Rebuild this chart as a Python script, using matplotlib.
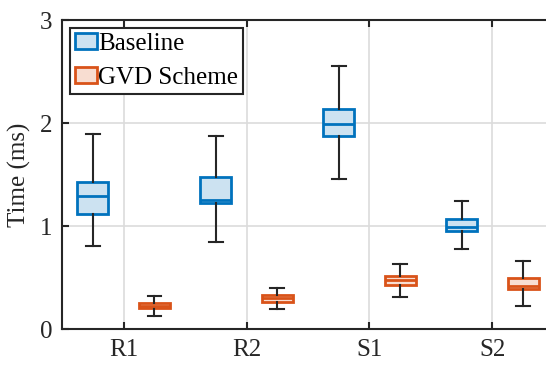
import matplotlib.pyplot as plt
from matplotlib.patches import Patch

# dados (ms)
grupos = ['R1', 'R2', 'S1', 'S2']

base_whislo = [0.81, 0.84, 1.46, 0.78]
base_q1 = [1.12, 1.22, 1.87, 0.95]
base_med = [1.29, 1.25, 1.99, 0.99]
base_q3 = [1.43, 1.48, 2.14, 1.07]
base_whishi = [1.89, 1.87, 2.55, 1.24]

gvd_whislo = [0.13, 0.195, 0.31, 0.225]
gvd_q1 = [0.20, 0.265, 0.43, 0.39]
gvd_med = [0.225, 0.30, 0.475, 0.42]
gvd_q3 = [0.25, 0.33, 0.515, 0.50]
gvd_whishi = [0.32, 0.40, 0.63, 0.66]

azul, azul_claro = '#0072BD', '#cce2f1'
laranja, laranja_claro = '#D95319', '#f8ddd1'
cinza = '#262626'

plt.rcParams['font.family'] = 'Liberation Serif'

fig = plt.figure(figsize=(5.46, 3.65), dpi=100)
ax = fig.add_axes([0.1136, 0.0986, 0.901, 0.8466])


def stats(lo, q1, med, q3, hi):
    return [dict(whislo=a, q1=b, med=c, q3=d, whishi=e, fliers=[])
            for a, b, c, d, e in zip(lo, q1, med, q3, hi)]


pos = range(1, len(grupos) + 1)
for dados, desloc, cor, cor_claro in [
        (stats(base_whislo, base_q1, base_med, base_q3, base_whishi), -0.25, azul, azul_claro),
        (stats(gvd_whislo, gvd_q1, gvd_med, gvd_q3, gvd_whishi), 0.25, laranja, laranja_claro)]:
    ax.bxp(dados, positions=[p + desloc for p in pos], widths=0.25,
           capwidths=0.11, patch_artist=True, showfliers=False,
           boxprops=dict(facecolor=cor_claro, edgecolor=cor, linewidth=2),
           medianprops=dict(color=cor, linewidth=2),
           whiskerprops=dict(color=cinza, linewidth=1.5),
           capprops=dict(color=cinza, linewidth=1.5), zorder=3)

ax.set_xlim(0.5, 4.5)
ax.set_ylim(0, 3)
ax.set_xticks(list(pos))
ax.set_xticklabels(grupos)
ax.set_yticks([0, 1, 2, 3])
ax.grid(True, color='#dcdcdc', linewidth=1.2, zorder=0)
ax.set_axisbelow(True)
ax.tick_params(direction='in', top=True, right=True, labelsize=18,
               colors=cinza, length=5, width=1.5, pad=7)
for s in ax.spines.values():
    s.set_color(cinza)
    s.set_linewidth(1.5)
ax.set_ylabel('Time (ms)', fontsize=18, color=cinza, labelpad=6)

handles = [Patch(facecolor=azul_claro, edgecolor=azul, linewidth=2, label='Baseline'),
           Patch(facecolor=laranja_claro, edgecolor=laranja, linewidth=2, label='GVD Scheme')]
leg = ax.legend(handles=handles, loc='upper left', fontsize=18, fancybox=False,
                edgecolor=cinza, framealpha=1, handlelength=0.9, handleheight=0.6,
                handletextpad=0.05, borderpad=0.2, labelspacing=0.5,
                borderaxespad=0.3)
leg.get_frame().set_linewidth(1.5)

fig.savefig('out.png', dpi=100)
